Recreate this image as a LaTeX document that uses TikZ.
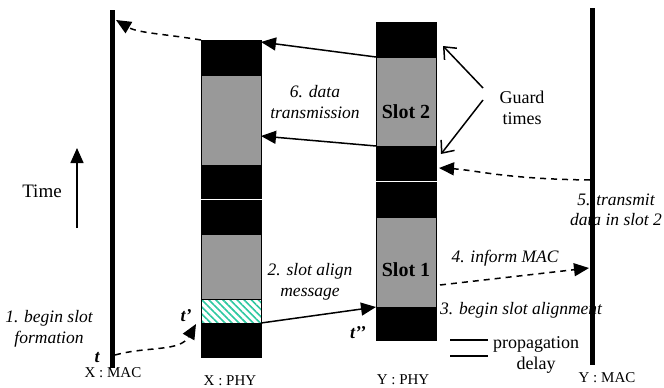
\documentclass[tikz,border=0pt]{standalone}
\usepackage{fontspec}
\setmainfont{Liberation Serif}
\usetikzlibrary{arrows.meta,patterns.meta}

\definecolor{slotgray}{RGB}{153,153,153}
\definecolor{hatchteal}{RGB}{45,200,160}

\begin{document}
\begin{tikzpicture}[x=1pt,y=-1pt,
  blk/.style={draw=black,line width=0.8pt,minimum width=60pt,inner sep=0pt,outer sep=0pt},
  guard/.style={blk,fill=black},
  slot/.style={blk,fill=slotgray},
  msg/.style={blk,pattern={Lines[angle=-45,distance=5pt,line width=1.6pt]},pattern color=hatchteal},
  mac/.style={line width=5pt},
  sig/.style={line width=1.5pt,-{Triangle[length=15pt,width=13pt]}},
  dsig/.style={sig,dash pattern=on 6pt off 5pt},
  gsig/.style={line width=1.5pt,-{Straight Barb[length=10pt,width=17pt,line width=1.5pt]}},
  it/.style={font=\fontsize{17.5}{20.5}\selectfont\itshape,align=center,inner sep=0pt},
  rm/.style={font=\fontsize{18}{20.5}\selectfont,align=center,inner sep=0pt},
  tag/.style={font=\fontsize{15}{17}\selectfont,inner sep=0pt},
  tmark/.style={font=\fontsize{18}{20}\selectfont\bfseries\itshape,inner sep=0pt},
  slotlbl/.style={font=\fontsize{20}{22}\selectfont\bfseries,inner sep=0pt}]

\useasboundingbox (0,0) rectangle (664,388);

% MAC time lines
\coordinate (xmacTop) at (112.5,10);
\coordinate (xmacBot) at (112.5,368);
\coordinate (ymacTop) at (592,8);
\coordinate (ymacBot) at (592,365);
\draw[mac] (xmacTop) -- (xmacBot);
\draw[mac] (ymacTop) -- (ymacBot);

% X : PHY slot stack
\node[guard,minimum height=35pt] (xg1) at (231,57.5) {};
\node[slot,minimum height=90pt]  (xs2) at (231,120) {};
\node[guard,minimum height=33pt] (xg2) at (231,181.5) {};
\node[guard,minimum height=34pt] (xg3) at (231,217) {};
\node[slot,minimum height=65pt]  (xs1) at (231,266.5) {};
\node[msg,minimum height=24pt]   (xm)  at (231,311) {};
\node[guard,minimum height=34pt] (xg4) at (231,340) {};

% Y : PHY slot stack
\node[guard,minimum height=35pt] (yg1) at (406,39.5) {};
\node[slot,minimum height=89pt]  (ys2) at (406,101.5) {};
\node[guard,minimum height=34pt] (yg2) at (406,163) {};
\node[guard,minimum height=35pt] (yg3) at (406,199.5) {};
\node[slot,minimum height=90pt]  (ys1) at (406,262) {};
\node[guard,minimum height=33pt] (yg4) at (406,323.5) {};

\node[slotlbl] (sl2) at (406,112) {Slot 2};
\node[slotlbl] (sl1) at (406,270) {Slot 1};

% free ends on the MAC lines
\coordinate (xmacIn)   at (116,20);
\coordinate (xmacOut)  at (115,355);
\coordinate (ymacOut)  at (590,180);
\coordinate (ymacIn)   at (589,268);
\coordinate (timeBot)  at (77,228);
\coordinate (timeTop)  at (77,148);
\coordinate (guardSrcA) at (483,88);
\coordinate (guardSrcB) at (483,100);

% 1. begin slot formation
\draw[dsig] (xmacOut) .. controls (148,346) and (180,352) .. ([shift={(-5,1)}]xg4.north west);
% 2. slot align message
\draw[sig] (xm.south east) -- (yg4.north west);
% 4. inform MAC
\draw[dsig] ([shift={(4,-22)}]yg4.north east) -- (ymacIn);
% 5. transmit data in slot 2
\draw[dsig] (ymacOut) .. controls (505,179) and (475,170) .. ([shift={(3,5)}]yg2.east);
% 6. data transmission
\draw[sig] (ys2.north west) -- ([shift={(0,2)}]xg1.north east);
\draw[sig] (ys2.south west) -- ([shift={(0,-29)}]xs2.south east);
% back up to the MAC
\draw[dsig] (xg1.north west) .. controls (165,34) and (138,33) .. (xmacIn);

% guard times
\draw[gsig] (guardSrcA) -- ([shift={(7,-11)}]yg1.south east);
\draw[gsig] (guardSrcB) -- ([shift={(5,8)}]yg2.north east);

% time axis
\draw[sig] (timeBot) -- (timeTop);
\node[rm,font=\fontsize{19}{21}\selectfont] (time) at (42,191) {Time};

% propagation delay legend
\coordinate (pdA1) at (450,340);
\coordinate (pdA2) at (488,340);
\coordinate (pdB1) at (450,356);
\coordinate (pdB2) at (488,356);
\draw[line width=1.5pt] (pdA1) -- (pdA2);
\draw[line width=1.5pt] (pdB1) -- (pdB2);
\node[rm] (pd) at (536,355) {propagation\\delay};

% labels
\node[it] (l1) at (49,329) {1. begin slot\\formation};
\node[it] (l2) at (310,282) {2. slot align\\message};
\node[it,anchor=west] (l3) at (440,310) {3. begin slot alignment};
\node[it] (l4) at (505,258) {4. inform MAC};
\node[it] (l5) at (616,210) {5. transmit\\data in slot 2};
\node[it] (l6) at (315,102) {6. data\\transmission};
\node[rm] (gt) at (522,108) {Guard\\times};

\node[tmark] (t0) at (97,358) {t};
\node[tmark] (t1) at (186,316) {t’};
\node[tmark] (t2) at (358,333) {t’’};

\node[tag] (xmac) at (113,373) {X : MAC};
\node[tag] (xphy) at (230,380.5) {X : PHY};
\node[tag] (yphy) at (403,380) {Y : PHY};
\node[tag] (ymac) at (607,378) {Y : MAC};

\end{tikzpicture}
\end{document}
